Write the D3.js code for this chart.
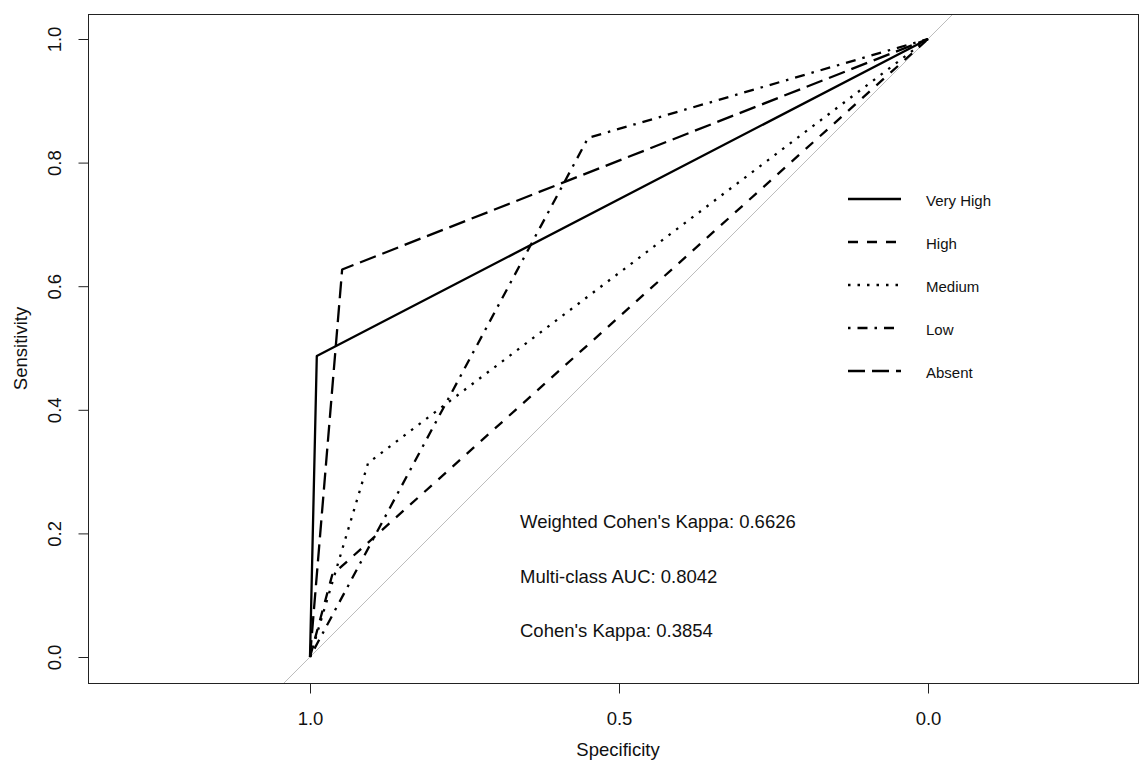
<!DOCTYPE html>
<meta charset="utf-8">
<style>
body { margin: 0; background: #fff; }
text { font-family: "Liberation Sans", Arial, sans-serif; fill: #111; }
.curve { fill: none; stroke: #000; stroke-width: 2.3; stroke-linecap: butt; stroke-linejoin: round; }
</style>
<svg width="1139" height="763"></svg>
<script src="https://d3js.org/d3.v7.min.js"></script>
<script>

// ROC curves (specificity, sensitivity) per class
var classes = ["Very High", "High", "Medium", "Low", "Absent"];
var specVeryHigh = [1, 0.989, 0],  sensVeryHigh = [0, 0.487, 1];
var specHigh     = [1, 0.964, 0],  sensHigh     = [0, 0.133, 1];
var specMedium   = [1, 0.906, 0],  sensMedium   = [0, 0.314, 1];
var specLow      = [1, 0.550, 0],  sensLow      = [0, 0.840, 1];
var specAbsent   = [1, 0.948, 0],  sensAbsent   = [0, 0.627, 1];

var xTicks = [1, 0.5, 0];
var yTicks = [0, 0.2, 0.4, 0.6, 0.8, 1.0];
var notes = ["Weighted Cohen's Kappa: 0.6626", "Multi-class AUC: 0.8042", "Cohen's Kappa: 0.3854"];

var specs = [specVeryHigh, specHigh, specMedium, specLow, specAbsent],
    senss = [sensVeryHigh, sensHigh, sensMedium, sensLow, sensAbsent];
var dashes = ["none", "10,9", "2.5,7", "2.5,7,10,7", "17,7"];

var svg = d3.select("svg"),
    box = {left: 88, top: 14, right: 1138, bottom: 683};

var x = d3.scaleLinear().domain([1, 0]).range([310, 928]),
    y = d3.scaleLinear().domain([0, 1]).range([657, 39]);

svg.append("clipPath").attr("id", "clip")
  .append("rect")
    .attr("x", box.left).attr("y", box.top)
    .attr("width", box.right - box.left).attr("height", box.bottom - box.top);

// diagonal reference
svg.append("line")
    .attr("clip-path", "url(#clip)")
    .attr("x1", x(1.2)).attr("y1", y(-0.2))
    .attr("x2", x(-0.2)).attr("y2", y(1.2))
    .attr("stroke", "#bdbdbd").attr("stroke-width", 1);

var line = d3.line()
    .x(function(d) { return x(d[0]); })
    .y(function(d) { return y(d[1]); });

classes.forEach(function(c, i) {
  var pts = specs[i].map(function(s, j) { return [s, senss[i][j]]; });
  svg.append("path")
      .datum(pts)
      .attr("class", "curve")
      .attr("clip-path", "url(#clip)")
      .attr("stroke-dasharray", dashes[i])
      .attr("d", line);
});

// box
svg.append("rect")
    .attr("x", box.left + 0.5).attr("y", box.top + 0.5)
    .attr("width", box.right - box.left).attr("height", box.bottom - box.top)
    .attr("fill", "none").attr("stroke", "#222").attr("stroke-width", 1);

// axes
var gx = svg.append("g")
    .attr("transform", "translate(0," + (box.bottom + 0.5) + ")")
    .call(d3.axisBottom(x).tickValues(xTicks).tickFormat(d3.format(".1f"))
      .tickSize(10).tickSizeOuter(0).tickPadding(18));
gx.select(".domain").remove();
gx.selectAll("line").attr("stroke", "#222");
gx.selectAll("text").style("font-size", "18.5px").attr("fill", "#111");

var gy = svg.append("g")
    .attr("transform", "translate(" + (box.left + 0.5) + ",0)")
    .call(d3.axisLeft(y).tickValues(yTicks).tickFormat(d3.format(".1f"))
      .tickSize(10).tickSizeOuter(0));
gy.select(".domain").remove();
gy.selectAll("line").attr("stroke", "#222");
gy.selectAll("text")
    .style("font-size", "18.5px").attr("fill", "#111")
    .attr("x", 0).attr("dy", 0)
    .attr("text-anchor", "middle")
    .attr("transform", "translate(-28,0) rotate(-90)");

svg.append("text")
    .attr("x", 618).attr("y", 756)
    .attr("text-anchor", "middle")
    .style("font-size", "18.5px")
    .text("Specificity");

svg.append("text")
    .attr("transform", "translate(27," + ((box.top + box.bottom) / 2) + ") rotate(-90)")
    .attr("text-anchor", "middle")
    .style("font-size", "18.5px")
    .text("Sensitivity");

// legend
var legend = svg.selectAll(".legend")
    .data(classes)
    .enter().append("g")
    .attr("class", "legend")
    .attr("transform", function(d, i) { return "translate(0," + (199 + i * 43) + ")"; });

legend.append("line")
    .attr("x1", 848).attr("x2", 901)
    .attr("stroke", "#000").attr("stroke-width", 2.3)
    .attr("stroke-dasharray", function(d, i) { return dashes[i]; });

legend.append("text")
    .attr("x", 926).attr("y", 6.5)
    .style("font-size", "15px")
    .text(function(d) { return d; });

// annotations
svg.selectAll(".note")
    .data(notes)
    .enter().append("text")
    .attr("class", "note")
    .attr("x", 520)
    .attr("y", function(d, i) { return 528 + i * 54.5; })
    .style("font-size", "18.5px")
    .text(function(d) { return d; });

</script>
